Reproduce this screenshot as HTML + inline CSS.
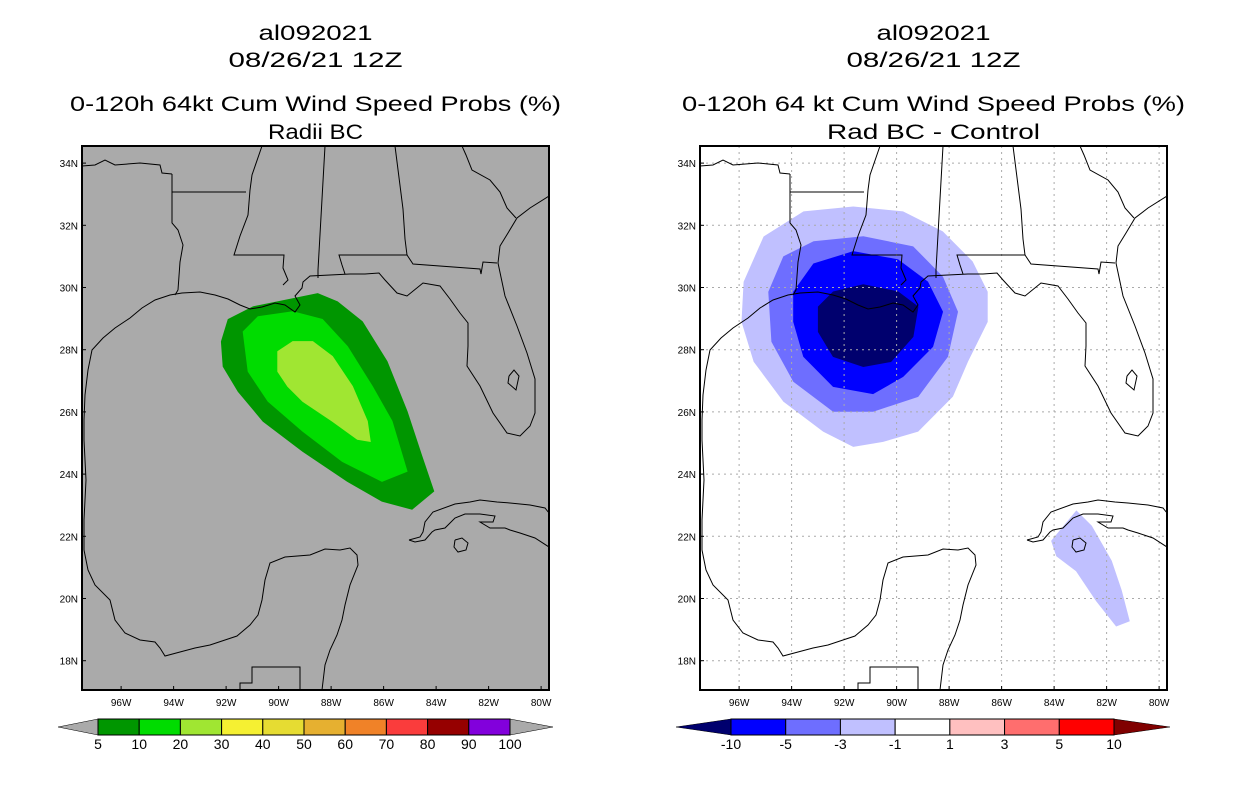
<!DOCTYPE html>
<html><head><meta charset="utf-8"><style>
body{margin:0;background:#fff;}
svg{display:block;font-family:"Liberation Sans",sans-serif;}
</style></head><body>
<svg width="1236" height="800" viewBox="0 0 1236 800">
<g id="root"></g>
</svg>
<script>
// ---- data ----
const lonTicks=[-96,-94,-92,-90,-88,-86,-84,-82,-80];
const latTicks=[34,32,30,28,26,24,22,20,18];
const probLevels=["5","10","20","30","40","50","60","70","80","90","100"];
const probColors=["#009600","#00dc00","#a0e632","#f5f032","#e6dc32","#e6b030","#f08228","#fa3c3c","#960000","#8200dc"];
const diffLevels=["-10","-5","-3","-1","1","3","5","10"];
const diffColors=["#0000ff","#6e6eff","#c0c0ff","#ffffff","#ffc0c0","#ff6e6e","#ff0000"];
// contour polygons [lon,lat]
const prob5=[[-92.18,28.26],[-91.92,28.97],[-90.97,29.38],[-89.46,29.64],[-88.51,29.80],[-87.76,29.54],[-86.81,28.90],[-85.87,27.62],[-85.11,26.02],[-84.54,24.57],[-84.09,23.45],[-84.92,22.87],[-86.06,23.13],[-87.38,23.77],[-89.08,24.73],[-90.59,25.70],[-91.54,26.66],[-92.11,27.46]];
const prob10=[[-91.35,28.58],[-90.78,29.06],[-89.46,29.22],[-88.33,28.97],[-87.38,28.10],[-86.43,26.82],[-85.68,25.70],[-85.11,24.09],[-86.06,23.77],[-87.57,24.41],[-89.08,25.38],[-90.40,26.34],[-91.16,27.30]];
const prob20=[[-90.03,27.94],[-89.46,28.26],[-88.70,28.26],[-87.95,27.78],[-87.19,26.82],[-86.62,25.70],[-86.51,25.05],[-87.00,25.12],[-87.95,25.70],[-89.08,26.34],[-89.65,26.82],[-90.03,27.30]];
const diffM1=[[-95.81,30.18],[-95.05,31.63],[-93.54,32.43],[-91.65,32.59],[-89.76,32.43],[-88.25,31.79],[-87.12,30.83],[-86.55,29.86],[-86.55,28.90],[-87.30,27.62],[-87.87,26.50],[-89.19,25.38],[-90.52,25.05],[-91.65,24.89],[-92.79,25.38],[-94.30,26.34],[-95.43,27.62],[-95.89,28.90]];
const diffM3=[[-94.87,29.86],[-94.30,30.99],[-93.16,31.47],[-91.27,31.63],[-89.38,31.31],[-88.25,30.34],[-87.68,29.22],[-88.06,27.78],[-89.19,26.50],[-90.90,26.02],[-92.41,26.02],[-93.92,26.98],[-94.75,28.26]];
const diffM5=[[-93.92,29.86],[-93.16,30.76],[-91.65,31.15],[-89.95,30.89],[-88.82,30.18],[-88.25,29.22],[-88.63,28.10],[-89.76,27.14],[-90.90,26.59],[-92.41,26.82],[-93.54,27.78],[-93.92,28.90]];
const diffM10=[[-92.98,29.38],[-92.41,29.86],[-91.27,30.09],[-89.95,29.86],[-89.19,29.38],[-89.38,28.42],[-90.22,27.62],[-91.27,27.46],[-92.41,27.78],[-92.98,28.58]];
const diffCuba=[[-84.09,21.85],[-83.15,22.81],[-82.58,22.33],[-81.82,21.21],[-81.44,20.25],[-81.14,19.28],[-81.63,19.12],[-82.39,19.93],[-83.15,20.89],[-83.90,21.37]];

// ---- geometry ----
const NS="http://www.w3.org/2000/svg";
const root=document.getElementById('root');
function mk(tag,attrs,parent){const e=document.createElementNS(NS,tag);for(const k in attrs)e.setAttribute(k,attrs[k]);(parent||root).appendChild(e);return e;}
const W0=-97.49,PXD=26.25,LAT0=34.55,PYD=31.1,TOP=146,BOT=690,PW=467;
function xs(x0){return lon=>x0+(lon-W0)*PXD;}
function ys(lat){return TOP+(LAT0-lat)*PYD;}
// coastline/borders in left-panel pixel coords
const coast=[[84,550],[84,520],[86,480],[84,440],[84,420],[85,395],[88,370],[92,350],[103,338],[115,328],[130,318],[142,308],[155,300],[170,295],[182,293],[200,292],[215,295],[228,299],[240,305],[250,309],[262,307],[275,303],[285,305],[295,312],[300,305],[295,296],[302,288],[303,282],[310,276],[330,275],[350,274],[365,274],[379,273],[385,280],[397,293],[407,296],[423,283],[440,286],[450,299],[460,313],[468,323],[468,346],[467,366],[480,386],[493,413],[507,433],[520,436],[530,426],[535,413],[535,379],[527,353],[517,326],[505,296],[498,263],[500,246],[508,233],[517,218],[530,208],[549,196]];
const lake=[[509,376],[514,370],[519,376],[516,390],[508,383],[509,376]];
const mexico=[[84,550],[88,570],[95,585],[110,600],[115,620],[125,633],[140,640],[155,642],[160,648],[165,656],[180,652],[195,648],[210,645],[225,640],[237,636],[250,625],[258,615],[262,600],[265,580],[270,563],[285,557],[310,555],[325,549],[340,550],[350,548],[357,555],[358,565],[350,585],[345,605],[342,620],[337,635],[330,650],[325,665],[322,690]];
const cuba=[[409,540],[420,537],[423,532],[425,522],[433,512],[455,504],[470,502],[480,500],[497,502],[510,503],[530,505],[545,508],[549,513],[549,547],[535,538],[520,533],[510,530],[505,528],[490,528],[480,522],[493,522],[495,516],[480,514],[465,514],[455,518],[445,528],[435,530],[432,532],[425,540],[415,542],[409,540]];
const isle=[[455,540],[462,538],[468,543],[466,550],[458,552],[454,547],[455,540]];
const borders=[
 [[82,166],[95,165],[105,160],[115,165],[140,163],[160,165],[162,173],[172,174]],
 [[172,174],[172,223],[178,230],[183,245],[180,262],[178,290],[175,295]],
 [[172,192],[246,192]],
 [[262,146],[252,175],[250,190],[248,215],[240,236],[234,255],[284,255],[283,268],[288,280],[283,285]],
 [[325,146],[318,270],[318,278]],
 [[345,274],[342,265],[339,255],[407,255],[413,264],[480,269],[481,274],[483,262],[497,263]],
 [[395,146],[403,209],[405,239],[407,255]],
 [[462,146],[466,155],[472,170],[490,180],[500,192],[507,208],[516,218]],
 [[240,690],[240,683],[252,683],[252,667],[300,667],[300,690]]];

function panel(x0,opt){
  const X=xs(x0);
  const g=mk('g',{});
  
  
  const cp='clip'+x0;
  const cl=mk('clipPath',{id:cp},g);mk('rect',{x:x0,y:TOP,width:PW,height:BOT-TOP},cl);
  const bg=mk('rect',{x:x0,y:TOP,width:PW,height:BOT-TOP,fill:opt.bg},g);
  
  
  const inner=mk('g',{'clip-path':'url(#'+cp+')'},g);
  const polyStr=p=>p.map(q=>X(q[0]).toFixed(1)+','+ys(q[1]).toFixed(1)).join(' ');
  opt.polys.forEach(([p,c,n])=>{const e=mk('polygon',{points:polyStr(p),fill:c,stroke:c,'stroke-width':1},inner);
    
    });
  if(opt.grid){
    lonTicks.forEach(l=>{const e=mk('line',{x1:X(l),x2:X(l),y1:TOP,y2:BOT,stroke:'#aaa','stroke-dasharray':'2,4'},inner);
      
      });
    latTicks.forEach(l=>{const e=mk('line',{x1:x0,x2:x0+PW,y1:ys(l),y2:ys(l),stroke:'#aaa','stroke-dasharray':'2,4'},inner);
      
      });
  }
  const gg=mk('g',{transform:'translate('+(x0-82)+',0)',fill:'none',stroke:'#000','stroke-width':1},inner);
  [coast,lake,mexico,cuba,isle].concat(borders).forEach(p=>{const e=mk('polyline',{points:p.map(q=>q.join(',')).join(' ')},gg);
    
    });
  const fr=mk('rect',{x:x0,y:TOP,width:PW,height:BOT-TOP,fill:'none',stroke:'#000','stroke-width':2},g);
  
  
  lonTicks.forEach(l=>{mk('line',{x1:X(l),x2:X(l),y1:BOT,y2:BOT-4,stroke:'#000'},g);
    const t=mk('text',{x:X(l),y:706,'font-size':10,'text-anchor':'middle'},g);t.textContent=(-l)+'W';
    
    });
  latTicks.forEach(l=>{mk('line',{x1:x0,x2:x0+4,y1:ys(l),y2:ys(l),stroke:'#000'},g);
    const t=mk('text',{x:x0-4,y:ys(l)+4,'font-size':10,'text-anchor':'end'},g);t.textContent=l+'N';
    
    });
  const cx=x0+PW/2;
  opt.titles.forEach((s,i)=>{const t=mk('text',{x:cx,y:[40,67,111,139][i],'font-size':21,'text-anchor':'middle',textLength:opt.tlen[i],lengthAdjust:'spacingAndGlyphs'},g);t.textContent=s;
    
    });
}
panel(82,{name:'radii-bc-map',bg:'#aaaaaa',grid:false,
  polys:[[prob5,probColors[0],'contour-5'],[prob10,probColors[1],'contour-10'],[prob20,probColors[2],'contour-20']],
  titles:['al092021','08/26/21 12Z','0-120h 64kt Cum Wind Speed Probs (%)','Radii BC'],tlen:[114,174,491,95]});
panel(700,{name:'difference-map',bg:'#ffffff',grid:true,
  polys:[[diffM1,diffColors[2],'contour-minus1'],[diffCuba,diffColors[2],'contour-minus1-cuba'],[diffM3,diffColors[1],'contour-minus3'],[diffM5,diffColors[0],'contour-minus5'],[diffM10,'#00006e','contour-minus10']],
  titles:['al092021','08/26/21 12Z','0-120h 64 kt Cum Wind Speed Probs (%)','Rad BC - Control'],tlen:[114,174,503,213]});

function colorbar(x1,x2,tl,tr,colors,labels,lc,rc,name){
  const g=mk('g',{});
  
  
  const y1=719,y2=735,ym=727,w=(x2-x1)/colors.length;
  mk('polygon',{points:`${tl},${ym} ${x1},${y1} ${x1},${y2}`,fill:lc,stroke:'#000','stroke-width':0.5},g);
  mk('polygon',{points:`${tr},${ym} ${x2},${y1} ${x2},${y2}`,fill:rc,stroke:'#000','stroke-width':0.5},g);
  colors.forEach((c,i)=>{const r=mk('rect',{x:x1+i*w,y:y1,width:w,height:y2-y1,fill:c,stroke:'#000','stroke-width':1},g);
    
    });
  labels.forEach((s,i)=>{const t=mk('text',{x:x1+i*w,y:749,'font-size':14,'text-anchor':'middle'},g);t.textContent=s;
    
    });
}
colorbar(98,510,58,553,probColors,probLevels,'#aaaaaa','#aaaaaa','prob-colorbar');
colorbar(731,1114,676,1170,diffColors,diffLevels,'#00006e','#800000','diff-colorbar');
</script>
</body></html>
